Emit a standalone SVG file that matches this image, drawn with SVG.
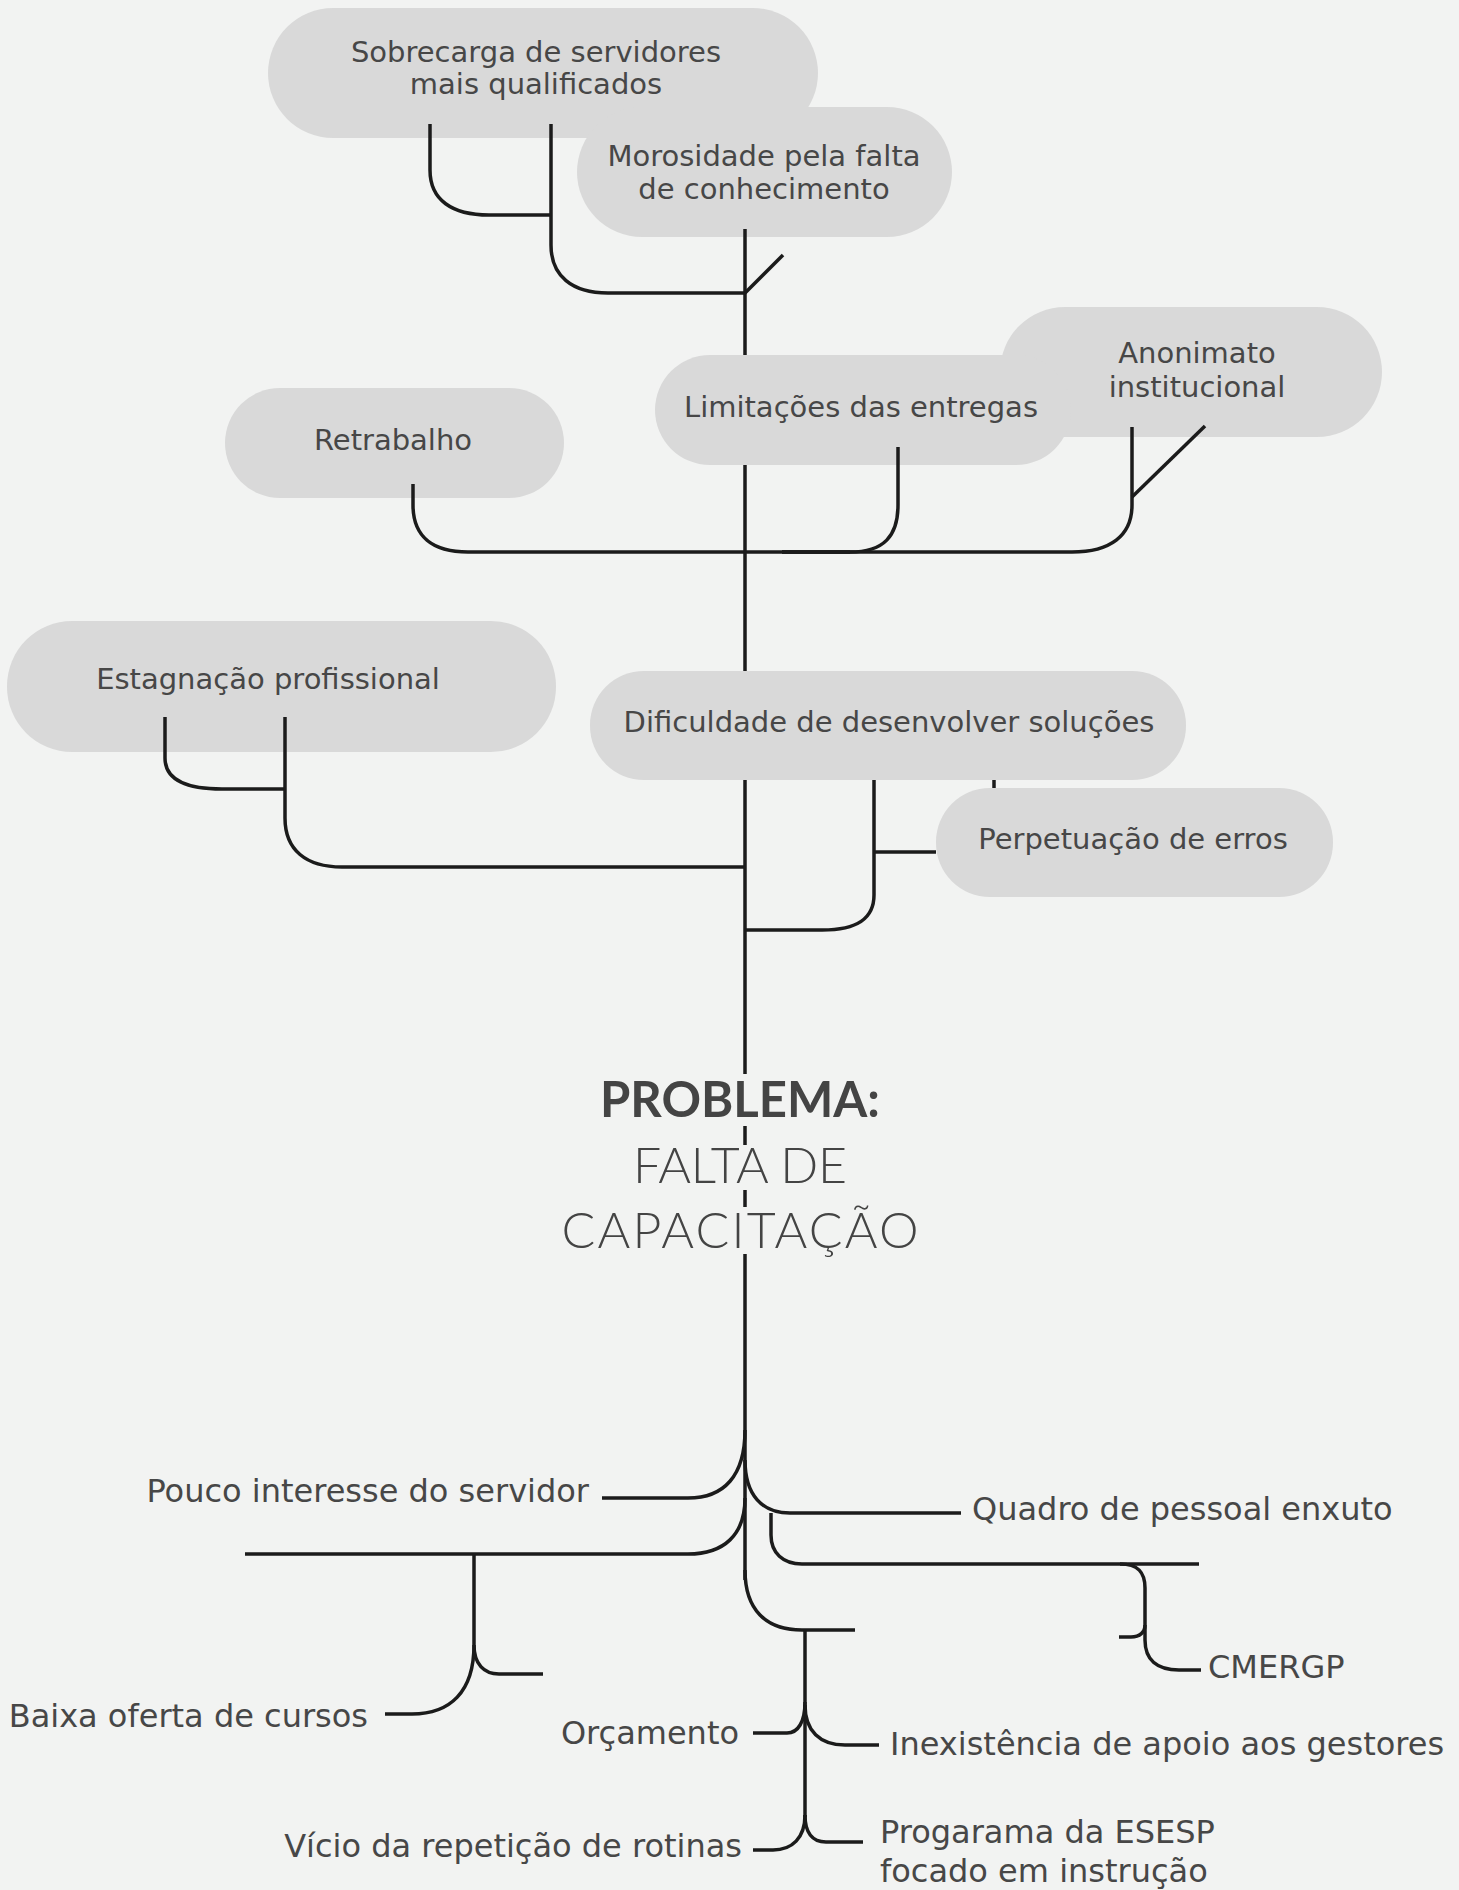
<svg xmlns="http://www.w3.org/2000/svg" width="1459" height="1890" viewBox="0 0 1459 1890">
  <style>
    .bg { fill: #f2f3f2; }
    .pill { fill: #d9d9d9; }
    .ln { fill: none; stroke: #1b1b1b; stroke-width: 3.5; stroke-linecap: butt; stroke-linejoin: round; }
    .t { font-family: "DejaVu Sans", "Noto Sans", sans-serif; fill: #474747; }
    .pt { font-size: 29px; text-anchor: middle; }
    .lb { font-size: 32px; }
    .end { text-anchor: end; }
    .title { font-family: Lato, "DejaVu Sans", sans-serif; font-size: 50px; text-anchor: middle; fill: #444444; }
  </style>

  <rect class="bg" x="0" y="0" width="1459" height="1890"/>

  <!-- consequence nodes (top half) -->
  <g id="n-sobrecarga">
    <rect class="pill" x="268" y="8" width="550" height="130" rx="65"/>
    <text class="t pt" x="536" y="62">Sobrecarga de servidores</text>
    <text class="t pt" x="536" y="94">mais qualificados</text>
  </g>
  <g id="n-morosidade">
    <rect class="pill" x="577" y="107" width="375" height="130" rx="65"/>
    <text class="t pt" x="764" y="166">Morosidade pela falta</text>
    <text class="t pt" x="764" y="199">de conhecimento</text>
  </g>
  <g id="n-anonimato">
    <rect class="pill" x="1000" y="307" width="382" height="130" rx="65"/>
    <text class="t pt" x="1197" y="363">Anonimato</text>
    <text class="t pt" x="1197" y="397">institucional</text>
  </g>
  <g id="n-limitacoes">
    <rect class="pill" x="655" y="355" width="416" height="110" rx="55"/>
    <text class="t pt" x="861" y="417">Limitações das entregas</text>
  </g>
  <g id="n-retrabalho">
    <rect class="pill" x="225" y="388" width="339" height="110" rx="55"/>
    <text class="t pt" x="393" y="450">Retrabalho</text>
  </g>
  <g id="n-estagnacao">
    <rect class="pill" x="7" y="621" width="549" height="131" rx="65"/>
    <text class="t pt" x="268" y="689">Estagnação profissional</text>
  </g>
  <g id="n-dificuldade">
    <rect class="pill" x="590" y="671" width="596" height="109" rx="54"/>
    <text class="t pt" x="889" y="732">Dificuldade de desenvolver soluções</text>
  </g>
  <g id="n-perpetuacao">
    <rect class="pill" x="936" y="788" width="397" height="109" rx="54"/>
    <text class="t pt" x="1133" y="849">Perpetuação de erros</text>
  </g>

  <!-- central problem -->
  <g id="n-problema">
    <text class="title" x="740" y="1117" font-weight="700" textLength="280" lengthAdjust="spacingAndGlyphs">PROBLEMA:</text>
    <text class="title" x="740" y="1183" font-weight="300" textLength="214" lengthAdjust="spacing">FALTA DE</text>
    <text class="title" x="740" y="1248" font-weight="300" textLength="357" lengthAdjust="spacing">CAPACITAÇÃO</text>
  </g>

  <!-- cause labels (bottom half) -->
  <g id="n-pouco-interesse"><text class="t lb end" x="589" y="1502">Pouco interesse do servidor</text></g>
  <g id="n-baixa-oferta"><text class="t lb end" x="368" y="1727">Baixa oferta de cursos</text></g>
  <g id="n-orcamento"><text class="t lb end" x="739" y="1744">Orçamento</text></g>
  <g id="n-vicio"><text class="t lb end" x="742" y="1857">Vício da repetição de rotinas</text></g>
  <g id="n-quadro"><text class="t lb" x="972" y="1520">Quadro de pessoal enxuto</text></g>
  <g id="n-cmergp"><text class="t lb" x="1208" y="1678">CMERGP</text></g>
  <g id="n-inexistencia"><text class="t lb" x="890" y="1755">Inexistência de apoio aos gestores</text></g>
  <g id="n-esesp">
    <text class="t lb" x="880" y="1843">Progarama da ESESP</text>
    <text class="t lb" x="880" y="1882">focado em instrução</text>
  </g>

  <!-- connectors -->
  <g id="connectors">
    <!-- trunk, broken where pills and title sit on it -->
    <path class="ln" d="M745,229 V355 M745,465 V671 M745,780 V1074 M745,1126 V1145 M745,1190 V1207 M745,1254 V1580"/>

    <!-- top: sobrecarga / morosidade -->
    <path class="ln" d="M430,124 V170 C430,200 452,215 489,215 H551"/>
    <path class="ln" d="M551,124 V245 C551,276 572,293 608,293 H745"/>
    <path class="ln" d="M745,293 L783,255"/>

    <!-- retrabalho / limitações / anonimato -->
    <path class="ln" d="M413,484 V505 C413,536 432,552 468,552 H850"/>
    <path class="ln" d="M898,447 V505 C898,536 884,552 850,552 H782"/>
    <path class="ln" d="M1132,427 V505 C1132,536 1110,552 1072,552 H782"/>
    <path class="ln" d="M1132,497 L1205,426"/>

    <!-- estagnação -->
    <path class="ln" d="M165,717 V758 C165,780 186,789 222,789 H285"/>
    <path class="ln" d="M285,717 V818 C285,850 306,867 342,867 H745"/>

    <!-- dificuldade / perpetuação -->
    <path class="ln" d="M874,780 V895 C874,918 858,930 822,930 H745"/>
    <path class="ln" d="M874,852 H936"/>
    <path class="ln" d="M994,780 V788"/>

    <!-- bottom left: pouco interesse, baixa oferta -->
    <path class="ln" d="M745,1430 C745,1476 724,1498 688,1498 H602"/>
    <path class="ln" d="M745,1498 C745,1535 724,1554 688,1554 H245"/>
    <path class="ln" d="M474,1554 V1645 C474,1664 484,1674 499,1674 H543"/>
    <path class="ln" d="M474,1645 C474,1692 450,1714 412,1714 H385"/>

    <!-- bottom right: quadro, cmergp -->
    <path class="ln" d="M745,1460 C745,1495 762,1513 790,1513 H961"/>
    <path class="ln" d="M771,1513 V1535 C771,1553 783,1564 802,1564 H1199"/>
    <path class="ln" d="M1120,1564 C1138,1564 1145,1572 1145,1588 V1625 C1145,1632 1140,1637 1131,1637 H1119"/>
    <path class="ln" d="M1145,1625 V1640 C1145,1660 1157,1670 1179,1670 H1201"/>

    <!-- bottom centre: orçamento group -->
    <path class="ln" d="M745,1570 C745,1610 766,1630 802,1630 H855"/>
    <path class="ln" d="M805,1630 V1817"/>
    <path class="ln" d="M805,1702 C805,1722 798,1733 787,1733 H753"/>
    <path class="ln" d="M805,1705 C805,1731 820,1745 845,1745 H879"/>
    <path class="ln" d="M805,1815 C805,1838 792,1850 773,1850 H753"/>
    <path class="ln" d="M805,1815 C805,1832 812,1842 826,1842 H863"/>
  </g>
</svg>
